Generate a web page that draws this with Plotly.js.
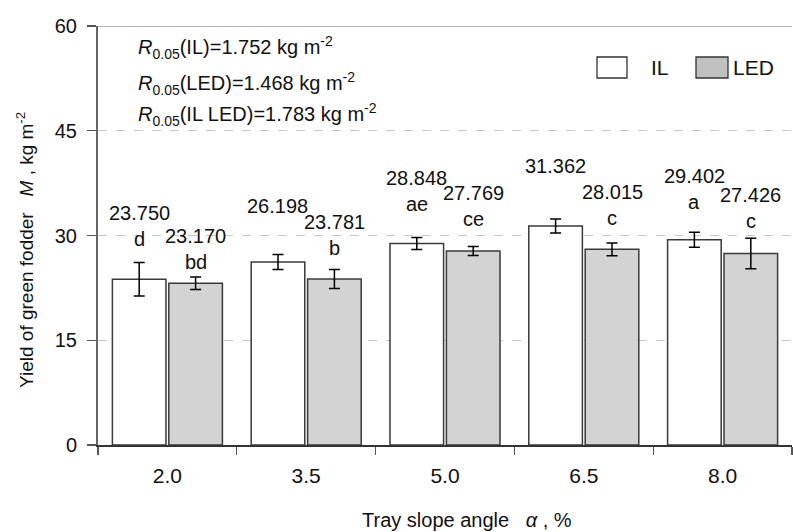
<!DOCTYPE html>
<html>
<head>
<meta charset="utf-8">
<script src="https://cdn.plot.ly/plotly-3.0.1.min.js"></script>
<style>html,body{margin:0;padding:0;background:#fff;}#chart{width:793px;height:532px;}</style>
</head>
<body>
<div id="chart"></div>
<script>
// ---- data ----
const categories = ["2.0", "3.5", "5.0", "6.5", "8.0"];
const ilValues  = [23.750, 26.198, 28.848, 31.362, 29.402];
const ledValues = [23.170, 23.781, 27.769, 28.015, 27.426];
const ilErrors  = [2.4, 1.07, 0.86, 1.0, 1.07];
const ledErrors = [0.9, 1.36, 0.64, 0.9, 2.17];
const ilLetters  = ["d", "", "ae", "", "a"];
const ledLetters = ["bd", "b", "ce", "c", "c"];
const seriesNames = ["IL", "LED"];
const yTicks = [0, 15, 30, 45, 60];
const rNotes = [
  "<i>R</i><sub>0.05</sub>(IL)=1.752 kg m<sup>-2</sup>",
  "<i>R</i><sub>0.05</sub>(LED)=1.468 kg m<sup>-2</sup>",
  "<i>R</i><sub>0.05</sub>(IL LED)=1.783 kg m<sup>-2</sup>"
];

// ---- layout geometry (pixels) ----
const W = 793, H = 532;
const M = {l: 98, r: 1, t: 26, b: 87};
const PW = W - M.l - M.r, PH = H - M.t - M.b;
const px = x => (x - M.l) / PW;
const py = y => (M.t + PH - y) / PH;
const BARGAP = 0.187, GROUPGAP = 0.05;
const barShift = (1 - BARGAP) * (PW / categories.length) / 4;
// vertical lift (px) of value labels above error-bar tops
const ilLift  = [49, 49, 60, 53, 56];
const ledLift = [41, 47, 54, 51, 43];
const LETTER_GAP = 26;
const FONT = "Liberation Sans, Arial, sans-serif";

const traces = [
  {type: "bar", name: seriesNames[0], x: categories, y: ilValues,
   marker: {color: "#ffffff", line: {color: "#3a3a3a", width: 1.5}},
   error_y: {type: "data", array: ilErrors, visible: true, color: "#000", thickness: 1.5, width: 5.5}},
  {type: "bar", name: seriesNames[1], x: categories, y: ledValues,
   marker: {color: "#d3d3d3", line: {color: "#3a3a3a", width: 1.5}},
   error_y: {type: "data", array: ledErrors, visible: true, color: "#000", thickness: 1.5, width: 5.5}}
];

const ann = [];
function addLabels(vals, errs, letters, lifts, shift) {
  vals.forEach((v, i) => {
    const top = v + errs[i];
    ann.push({x: i, y: top, xref: "x", yref: "y", xshift: shift, yshift: lifts[i],
      text: v.toFixed(3), showarrow: false, xanchor: "center", yanchor: "middle",
      font: {family: FONT, size: 20, color: "#111"}});
    if (letters[i]) {
      ann.push({x: i, y: top, xref: "x", yref: "y", xshift: shift, yshift: lifts[i] - LETTER_GAP,
        text: letters[i], showarrow: false, xanchor: "center", yanchor: "middle",
        font: {family: FONT, size: 20, color: "#111"}});
    }
  });
}
addLabels(ilValues, ilErrors, ilLetters, ilLift, -barShift);
addLabels(ledValues, ledErrors, ledLetters, ledLift, barShift);

// R notes
[47, 83, 115].forEach((yy, i) => {
  ann.push({xref: "paper", yref: "paper", x: px(136), y: py(yy), xanchor: "left", yanchor: "middle",
    text: rNotes[i], showarrow: false, font: {family: FONT, size: 20, color: "#111"}});
});
// legend texts
ann.push({xref: "paper", yref: "paper", x: px(660), y: py(68), xanchor: "center", yanchor: "middle",
  text: seriesNames[0], showarrow: false, font: {family: FONT, size: 21, color: "#111"}});
ann.push({xref: "paper", yref: "paper", x: px(731), y: py(68), xanchor: "left", yanchor: "middle",
  text: seriesNames[1], showarrow: false, font: {family: FONT, size: 21, color: "#111"}});
// axis titles
ann.push({xref: "paper", yref: "paper", x: px(25), y: py(250), xanchor: "center", yanchor: "middle",
  textangle: -90, text: "Yield of green fodder\u00a0\u00a0\u00a0<i>M</i>\u00a0, kg m<sup>-2</sup>", showarrow: false,
  font: {family: FONT, size: 19, color: "#111"}});
ann.push({xref: "paper", yref: "paper", x: px(467), y: py(520), xanchor: "center", yanchor: "middle",
  text: "Tray slope angle\u00a0\u00a0\u00a0<i>α</i>\u00a0, %", showarrow: false,
  font: {family: FONT, size: 20, color: "#111"}});

const shapes = [
  // top border
  {type: "line", xref: "paper", yref: "y", x0: 0, x1: 1, y0: 60, y1: 60, line: {color: "#a0a0a0", width: 1.5}},
  // legend swatches
  {type: "rect", xref: "paper", yref: "paper", x0: px(597), x1: px(627), y0: py(78), y1: py(57),
   fillcolor: "#ffffff", line: {color: "#333", width: 1.3}},
  {type: "rect", xref: "paper", yref: "paper", x0: px(696), x1: px(728), y0: py(78), y1: py(57),
   fillcolor: "#c0c0c0", line: {color: "#333", width: 1.3}}
];

const layout = {
  width: W, height: H,
  margin: M,
  paper_bgcolor: "#fff", plot_bgcolor: "#fff",
  barmode: "group", bargap: BARGAP, bargroupgap: GROUPGAP,
  showlegend: false,
  font: {family: FONT, size: 18, color: "#111"},
  xaxis: {type: "category", range: [-0.5, categories.length - 0.5], showline: true, linecolor: "#333", linewidth: 1.5,
    ticks: "outside", tickson: "boundaries", ticklen: 8, tickcolor: "#555", tickwidth: 1.2,
    tickfont: {family: FONT, size: 21, color: "#111"}, ticklabelstandoff: 11,
    showgrid: false, zeroline: false, fixedrange: true},
  yaxis: {range: [0, 60], tickvals: yTicks, ticktext: yTicks.map(String),
    showline: true, linecolor: "#666", linewidth: 2,
    ticks: "outside", ticklen: 9, tickcolor: "#555", tickwidth: 1.2,
    tickfont: {family: FONT, size: 20, color: "#111"}, ticklabelstandoff: 6,
    showgrid: true, gridcolor: "#c8c8c8", griddash: "dash", gridwidth: 1.2,
    zeroline: false, fixedrange: true},
  annotations: ann,
  shapes: shapes
};

Plotly.newPlot("chart", traces, layout, {displayModeBar: false, staticPlot: true});
</script>
</body>
</html>
